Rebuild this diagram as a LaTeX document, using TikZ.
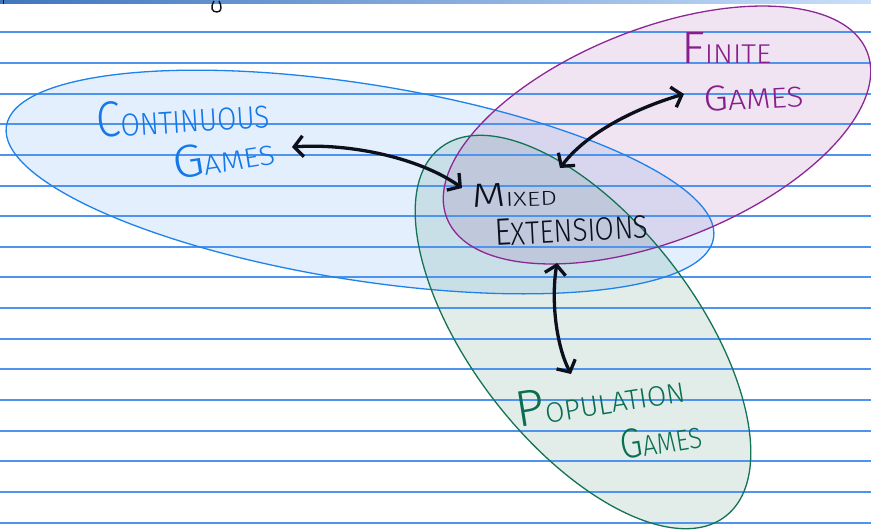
\documentclass[tikz,border=0pt]{standalone}
\usepackage{fontspec}
\usepackage{graphicx}
\usetikzlibrary{arrows.meta}
\IfFontExistsTF{Fira Sans Light}{\newfontfamily\hand{Fira Sans Light}}{%
  \IfFontExistsTF{Lato Light}{\newfontfamily\hand{Lato Light}}{\newfontfamily\hand{Fira Sans}}}
\definecolor{rule}{RGB}{78,148,238}
\definecolor{blueE}{RGB}{30,130,235}
\definecolor{purpE}{RGB}{140,40,150}
\definecolor{greenE}{RGB}{20,115,85}
\definecolor{blueT}{RGB}{20,120,232}
\definecolor{purpT}{RGB}{135,30,140}
\definecolor{greenT}{RGB}{10,110,80}
\definecolor{ink}{RGB}{12,16,28}
\newcommand{\hwt}[5]{\resizebox{#1pt}{#2pt}{\hand\fontsize{10pt}{10pt}\selectfont #4\fontsize{#3pt}{#3pt}\selectfont #5}}
\begin{document}
\begin{tikzpicture}[x=1pt,y=-1pt,
  rulel/.style={draw=rule,line width=1.8pt},
  setfill/.style={fill=#1,fill opacity=0.12,draw=none},
  setline/.style={draw=#1,line width=1.3pt},
  handtxt/.style={inner sep=0pt,anchor=base west,text=#1},
  dbl/.style={draw=ink,line width=3.3pt,line cap=round,
    {Straight Barb[length=9pt,width=21pt]}-{Straight Barb[length=9pt,width=21pt]}}]
\fill[white] (0,0) rectangle (871,531);
\useasboundingbox (0,0) rectangle (871,531);
% set fills
\fill[setfill=blueE, rotate around={-9:(360,182)}] (360,182) ellipse [x radius=358pt, y radius=98pt];
\fill[setfill=purpE, rotate around={21.6:(657,135)}] (657,135) ellipse [x radius=226pt, y radius=106pt];
\fill[setfill=greenE, rotate around={-52.3:(583,332)}] (583,332) ellipse [x radius=233pt, y radius=112pt];
% ruled lines
\foreach \k in {0,...,16} {
  \pgfmathsetmacro{\yy}{round(32.3+30.65*\k)}
  \draw[rulel] (0,\yy) -- (871,\yy);
}
\shade[left color=rule!80!black, right color=rule!30] (0,0) rectangle (871,3);
% set outlines
\draw[setline=blueE, rotate around={-9:(360,182)}] (360,182) ellipse [x radius=358pt, y radius=98pt];
\draw[setline=purpE, rotate around={21.6:(657,135)}] (657,135) ellipse [x radius=226pt, y radius=106pt];
\draw[setline=greenE, rotate around={-52.3:(583,332)}] (583,332) ellipse [x radius=233pt, y radius=112pt];
% stray marks at top
\draw[ink,line width=1.4pt] (214,1) .. controls (210,8) and (212,12) .. (217,12) .. controls (222,12) and (222,6) .. (219,1);
\draw[ink,line width=1pt] (3,0) -- (3,4);
% labels
\node[handtxt=blueT, rotate=3.6] (contA) at (97,138) {\hwt{173}{35}{6.3}{C}{ONTINUOUS}};
\node[handtxt=blueT, rotate=9] (contB) at (175,180) {\hwt{103}{32}{6}{G}{AMES}};
\node[handtxt=ink, rotate=2] (mixA) at (472,208) {\hwt{85}{23}{6}{M}{IXED}};
\node[handtxt=ink, rotate=3] (mixB) at (495,246) {\hwt{154}{26}{8.5}{E}{XTENSIONS}};
\node[handtxt=purpT] (finA) at (681,63) {\hwt{90}{31}{6}{F}{INITE}};
\node[handtxt=purpT, rotate=3] (finB) at (704,112) {\hwt{100}{25}{8}{G}{AMES}};
\node[handtxt=greenT, rotate=9] (popA) at (518,428) {\hwt{170}{35}{5.5}{P}{OPULATION}};
\node[handtxt=greenT, rotate=9] (popB) at (622,460) {\hwt{82}{29}{7}{G}{AMES}};
% arrow tips
\coordinate (c1) at (292,147);
\coordinate (m1) at (462,188);
\coordinate (m2) at (560,168);
\coordinate (f1) at (684,94);
\coordinate (m3) at (557,263);
\coordinate (p1) at (571,374);
\draw[dbl] (c1) .. controls (350,143) and (420,158) .. (m1);
\draw[dbl] (m2) .. controls (585,135) and (630,110) .. (f1);
\draw[dbl] (m3) .. controls (551,300) and (556,345) .. (p1);
\end{tikzpicture}
\end{document}
